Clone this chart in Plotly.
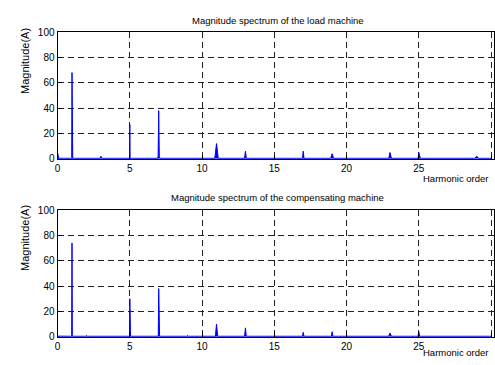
import plotly.graph_objects as go

# Spectrum samples (harmonic order, magnitude in A)
load_x = [0, 0.04, 0.08, 0.95, 0.98, 1.0, 1.02, 1.05, 2.95, 3.0, 3.05, 4.95, 4.98, 5.0, 5.02, 5.05,
          6.9, 6.96, 7.0, 7.04, 7.1, 10.88, 11.0, 11.12, 12.94, 13.0, 13.06, 16.95, 17.0, 17.05,
          18.9, 19.0, 19.1, 22.92, 23.0, 23.1, 24.95, 25.0, 25.05, 25.1, 28.85, 29.0, 29.15, 30]
load_y = [5, 0.6, 0.4, 0.4, 1.0, 68, 1.0, 0.4, 0.4, 2.0, 0.4, 0.4, 1.0, 27, 1.0, 0.4,
          0.4, 1.5, 38, 1.5, 0.4, 0.4, 12, 0.4, 0.4, 6, 0.4, 0.4, 6, 0.4,
          0.4, 4, 0.4, 0.4, 5, 0.4, 0.4, 5, 3, 0.4, 0.4, 2, 0.4, 0.4]

comp_x = [0, 0.95, 0.98, 1.0, 1.02, 1.05, 1.95, 2.0, 2.05, 4.95, 4.98, 5.0, 5.02, 5.05,
          6.94, 6.97, 7.0, 7.03, 7.06, 8.95, 9.0, 9.05, 10.92, 11.0, 11.08, 12.94, 13.0, 13.06,
          16.95, 17.0, 17.05, 18.95, 19.0, 19.05, 22.92, 23.0, 23.1, 24.95, 25.0, 25.05,
          26.95, 27.0, 27.05, 28.95, 29.0, 29.05, 30]
comp_y = [0.5, 0.4, 1.0, 74, 1.0, 0.4, 0.4, 1.0, 0.4, 0.4, 1.0, 30, 1.0, 0.4,
          0.4, 1.5, 38, 1.5, 0.4, 0.4, 1.0, 0.4, 0.4, 10, 0.4, 0.4, 7, 0.4,
          0.4, 3.5, 0.4, 0.4, 4, 0.4, 0.4, 3, 0.4, 0.4, 4, 0.4,
          0.4, 0.8, 0.4, 0.4, 0.8, 0.4, 0.4]

titles = ["Magnitude spectrum of the load machine",
          "Magnitude spectrum of the compensating machine"]
y_label = "Magnitude(A)"
x_label = "Harmonic order"
x_ticks = [0, 5, 10, 15, 20, 25, 30]
y_ticks = [0, 20, 40, 60, 80, 100]

W, H = 495, 365
FONT = "Liberation Sans, Arial, sans-serif"
BLUE = "#0000ff"

fig = go.Figure()
fig.add_trace(go.Scatter(x=load_x, y=load_y, mode="lines", line=dict(color=BLUE, width=1),
                         fill="tozeroy", fillcolor=BLUE, xaxis="x", yaxis="y", showlegend=False))
fig.add_trace(go.Scatter(x=comp_x, y=comp_y, mode="lines", line=dict(color=BLUE, width=1),
                         fill="tozeroy", fillcolor=BLUE, xaxis="x2", yaxis="y2", showlegend=False))

def py(px):
    return (H - px) / H

xd = [55 / W, 1.0]
axis_common = dict(showline=True, linecolor="black", linewidth=1, mirror=True,
                   ticks="inside", ticklen=4, tickcolor="black",
                   showgrid=True, gridcolor="#222222", gridwidth=1, griddash="6px,4px",
                   zeroline=False, tickfont=dict(family=FONT, size=10, color="black"))

fig.update_layout(
    width=W, height=H,
    margin=dict(l=0, r=0, t=0, b=0),
    paper_bgcolor="white", plot_bgcolor="white",
    xaxis=dict(domain=xd, range=[0, 30.2], tickvals=x_ticks, anchor="y", **axis_common),
    yaxis=dict(domain=[py(158), py(27)], range=[0, 100], tickvals=y_ticks, anchor="x", **axis_common),
    xaxis2=dict(domain=xd, range=[0, 30.2], tickvals=x_ticks, anchor="y2", **axis_common),
    yaxis2=dict(domain=[py(342), py(211)], range=[0, 100], tickvals=y_ticks, anchor="x2", **axis_common),
)

ann = []
for t, yc in zip(titles, [15, 198]):
    ann.append(dict(text=t, x=277 / W, y=py(yc), xref="paper", yref="paper", showarrow=False,
                    xanchor="center", yanchor="middle", font=dict(family=FONT, size=9.5, color="black")))
for yc in [57, 240]:
    ann.append(dict(text=y_label, x=22 / W, y=py(yc), xref="paper", yref="paper", showarrow=False,
                    textangle=-90, xanchor="center", yanchor="middle",
                    font=dict(family=FONT, size=11, color="black")))
for yc in [178, 358]:
    ann.append(dict(text=x_label, x=491 / W, y=py(yc), xref="paper", yref="paper", showarrow=False,
                    xanchor="right", yanchor="middle", font=dict(family=FONT, size=9.5, color="black")))
fig.update_layout(annotations=ann)

fig.write_html("out.html")
